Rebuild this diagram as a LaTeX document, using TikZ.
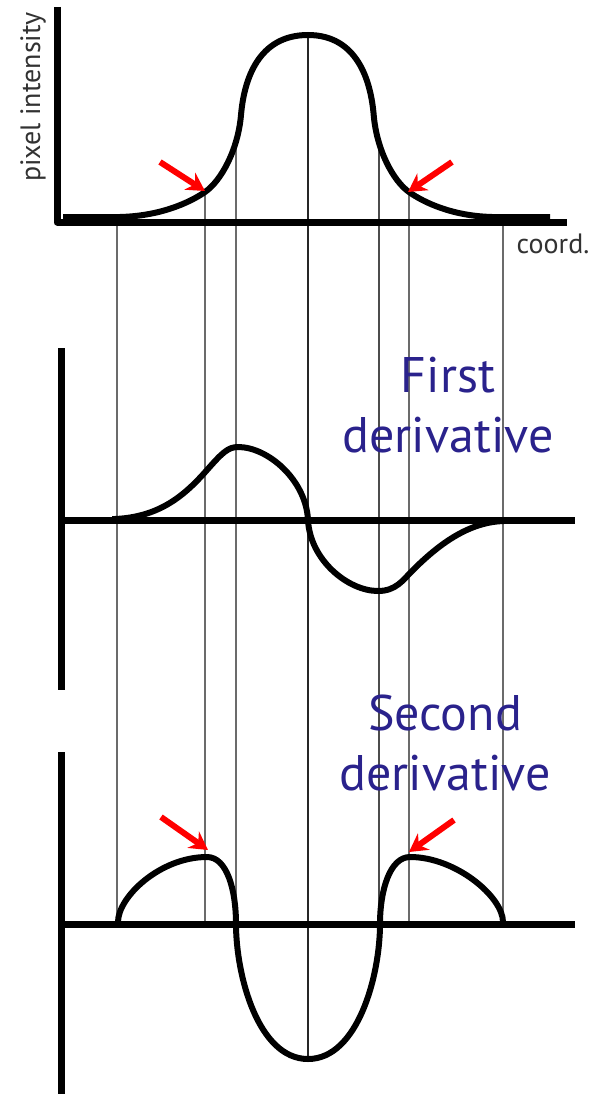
\documentclass[tikz,border=0pt]{standalone}
\usepackage{fontspec}
\setmainfont{PT Sans}
\usetikzlibrary{arrows.meta}
\definecolor{lblblue}{RGB}{42,34,140}
\definecolor{txtgray}{RGB}{50,50,50}
\begin{document}
\begin{tikzpicture}[x=1pt,y=-1pt,
  axis/.style={line width=7pt, line join=round},
  curve/.style={line width=6pt, line join=round},
  guide/.style={line width=1.9pt, black!58},
  redarrow/.style={red, line width=6pt, -{Stealth[length=18pt,width=20pt,inset=6pt]}},
  bluelabel/.style={text=lblblue, font=\fontsize{50}{60}\selectfont, align=center, anchor=base},
  graylabel/.style={text=txtgray, font=\fontsize{28}{30}\selectfont}]
\useasboundingbox (0,0) rectangle (597,1094);
% guide lines
\draw[guide] (117,222) -- (117,922);
\draw[guide] (205,192) -- (205,924);
\draw[guide] (236,145) -- (236,924);
\draw[guide, line width=1.4pt, black!85] (308,35) -- (308,1058);
\draw[guide, black!70] (379,145) -- (379,924);
\draw[guide] (409,192) -- (409,928);
\draw[guide] (503,222) -- (503,926);
% top panel
\draw[axis] (57,7) -- (57,222) -- (567,222);
\draw[curve] (63,217) -- (120,217) .. controls (160,216) and (189,203) .. (205,192)
  .. controls (221,181) and (238,150) .. (241,115)
  .. controls (244,80) and (258,35) .. (308,35)
  .. controls (357,35) and (370.7,80) .. (373.7,115)
  .. controls (376.6,150) and (393.3,181) .. (409,192)
  .. controls (424.6,203) and (453,216) .. (492,217) -- (550,217);
\node[graylabel, rotate=90] (ylab) at (33,97) {pixel intensity};
\node[graylabel, anchor=base] (xlab) at (553,253) {coord.};
\coordinate (a1s) at (160,162); \coordinate (a1e) at (205,191);
\coordinate (a2s) at (452,162); \coordinate (a2e) at (408,192);
\draw[redarrow] (a1s) -- (a1e);
\draw[redarrow] (a2s) -- (a2e);
% first derivative
\draw[axis] (61,348) -- (61,690);
\draw[axis] (61,520) -- (575,520);
\draw[curve] (112,519) -- (115,519) .. controls (160,517) and (185,495) .. (207,470)
  .. controls (222,453) and (228,447) .. (238,447)
  .. controls (268,447) and (306,480) .. (308,520)
  .. controls (310,560) and (348,591) .. (378,591)
  .. controls (396,591) and (403,580) .. (412,571)
  .. controls (438,545) and (468,522) .. (504,521);
\node[bluelabel] (first) at (448,452) {First\\derivative};
% second derivative
\draw[axis] (61,752) -- (61,1094);
\draw[axis] (61,924) -- (575,924);
\draw[curve] (118,922) .. controls (118,897) and (160,857) .. (207,857)
  .. controls (227,857) and (236,890) .. (236,924)
  .. controls (236,975) and (258,1059) .. (308,1059)
  .. controls (358,1059) and (380,975) .. (380,924)
  .. controls (380,890) and (390,857) .. (410,857)
  .. controls (456,857) and (503,897) .. (503,922);
\node[bluelabel] (second) at (445,790) {Second\\derivative};
\coordinate (b1s) at (161,817); \coordinate (b1e) at (208,850);
\coordinate (b2s) at (454,820); \coordinate (b2e) at (409,852);
\draw[redarrow] (b1s) -- (b1e);
\draw[redarrow] (b2s) -- (b2e);
\end{tikzpicture}
\end{document}
